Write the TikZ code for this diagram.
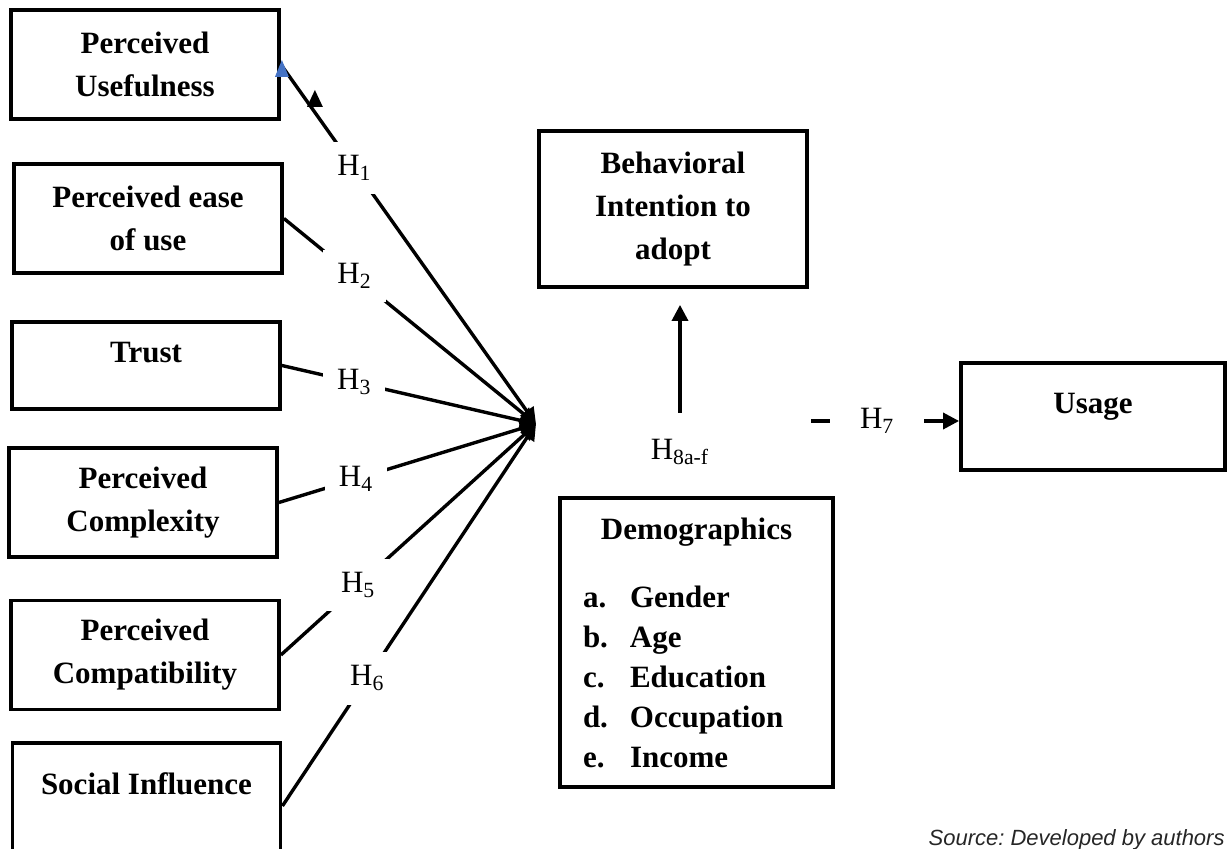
\documentclass[tikz,border=0pt]{standalone}
\usepackage{fontspec}
\setmainfont{Liberation Serif}
\newfontfamily\srcfont{Liberation Sans}
\usetikzlibrary{arrows.meta,calc}
\definecolor{TipBlue}{RGB}{68,114,196}
\newcommand{\lifted}[2]{\raisebox{#1}[10pt][0pt]{#2}}

\begin{document}
\begin{tikzpicture}[x=0.5pt, y=-0.5pt,
  box/.style={draw, line width=1.9pt, inner sep=0pt, align=center,
    minimum width=134pt, minimum height=54.5pt,
    font=\fontsize{15.5}{21.5}\selectfont\bfseries},
  hyp/.style={fill=white, inner sep=7pt, font=\fontsize{15.5}{18}\selectfont},
  link/.style={line width=1.7pt},
  arr/.style={link, -{Triangle[length=8pt,width=8pt]}}]
  \useasboundingbox (0,0) rectangle (1227,849);
  % determinants
  \node[box] (pu) at (145,64.5) {Perceived\\Usefulness};
  \node[box] (pe) at (148,218.5) {Perceived ease\\of use};
  \node[box, minimum height=43.5pt] (tr) at (146,365.5) {\lifted{6.5pt}{Trust}};
  \node[box] (co) at (143,502.5) {Perceived\\Complexity};
  \node[box] (cp) at (145,655) {Perceived\\Compatibility};
  \node[box, minimum height=63pt] (si) at (146.5,806) {\lifted{10.5pt}{Social Influence}};
  % outcomes
  \node[box, minimum height=78pt] (bi) at (673,209) {Behavioral\\Intention to\\adopt};
  \node[box, minimum width=132pt, minimum height=53.5pt] (us) at (1093,416.5) {\lifted{6.5pt}{Usage}};
  \node[box, minimum width=136.5pt, minimum height=144.5pt, text width=113.5pt,
        align=left, font=\fontsize{15.5}{20}\selectfont\bfseries] (dm) at (696.5,642.5)
    {\makebox[113.5pt]{Demographics}\\[14pt]
     \makebox[23.5pt][l]{a.}Gender\\
     \makebox[23.5pt][l]{b.}Age\\
     \makebox[23.5pt][l]{c.}Education\\
     \makebox[23.5pt][l]{d.}Occupation\\
     \makebox[23.5pt][l]{e.}Income};
  % hypotheses
  \coordinate (hub) at (536,424);
  \draw[arr] (pu.east) -- (hub) node[hyp, pos=0.288] (h1) {H\textsubscript{1}};
  \draw[arr] (pe.east) -- (hub) node[hyp, pos=0.28] (h2) {H\textsubscript{2}};
  \draw[arr] (tr.east) -- (hub) node[hyp, pos=0.285] (h3) {H\textsubscript{3}};
  \draw[arr] (co.east) -- (hub) node[hyp, pos=0.30] (h4) {H\textsubscript{4}};
  \draw[arr] (cp.east) -- (hub) node[hyp, pos=0.303] (h5) {H\textsubscript{5}};
  \draw[arr] (si.east) -- (hub) node[hyp, pos=0.335] (h6) {H\textsubscript{6}};
  \fill[TipBlue] (pu.east) ++(1,-4.5) -- ++(-7,17) -- ++(14,0) -- cycle;
  \fill (pu.east) ++(34,25.5) -- ++(-8,17) -- ++(16,0) -- cycle;
  \node[hyp] (h8) at (680,452) {H\textsubscript{8a-f}};
  \draw[arr, shorten <=6pt, shorten >=8pt] (h8) -- (h8 |- bi.south);
  \coordinate (c7) at (811,421);
  \draw[arr] (c7) -- (c7 -| us.west) node[hyp, inner xsep=15pt, pos=0.447] (h7) {H\textsubscript{7}};
  \node[anchor=base east, inner sep=0pt, text=black!85,
        font={\srcfont\fontsize{11}{13}\itshape\selectfont\frenchspacing}] (src) at (1225,845)
    {Source: Developed by authors};
\end{tikzpicture}
\end{document}
